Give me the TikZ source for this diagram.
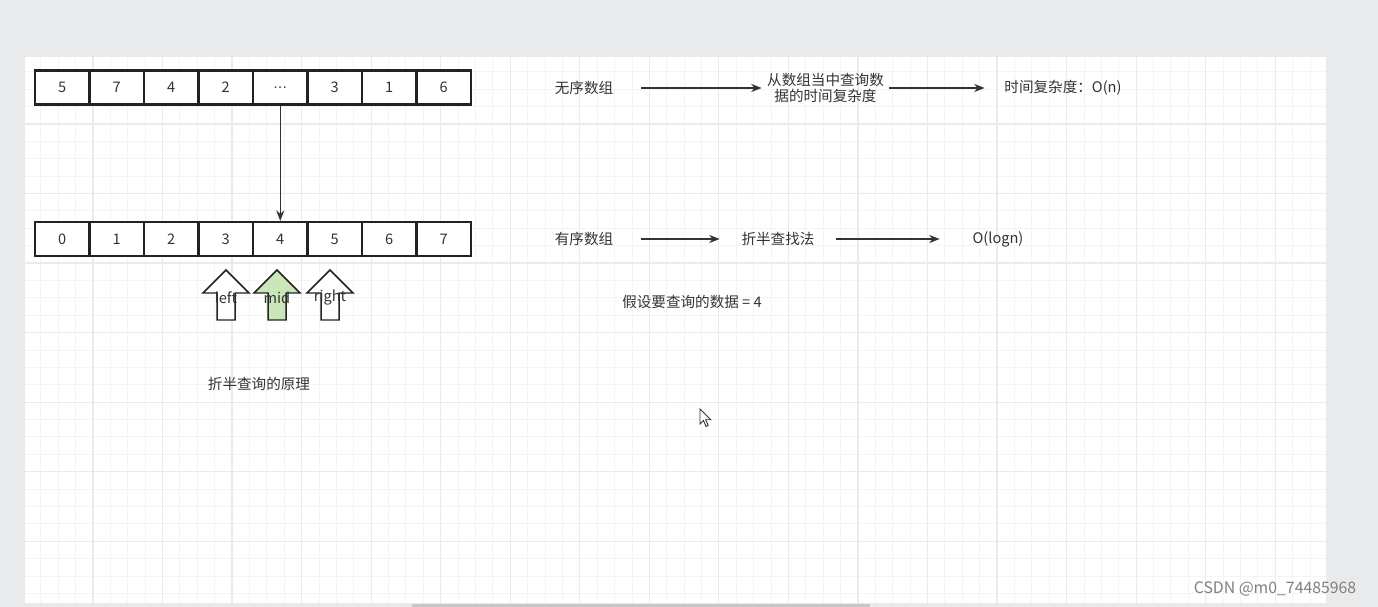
\documentclass[tikz,border=0pt]{standalone}
\usepackage{fontspec}
\setmainfont{Noto Sans CJK SC}
\newfontfamily\latinfont{Liberation Sans}
\usetikzlibrary{arrows.meta}

\definecolor{pagegray}{HTML}{E9EAEC}
\definecolor{gridminor}{HTML}{F4F4F4}
\definecolor{gridmajor}{HTML}{EBEBEB}
\definecolor{cellline}{HTML}{222222}
\definecolor{txt}{HTML}{333333}
\definecolor{midgreen}{HTML}{C9E7B9}
\newcommand\celldots{{\latinfont.\kern0.3pt.\kern0.3pt.}}

\begin{document}
\begin{tikzpicture}[
  x=0.02cm, y=-0.02cm,
  >={Stealth[length=6pt,width=4.6pt]},
  font=\fontsize{8.3}{9.6}\selectfont,
  cell/.style={draw=cellline, line width=1.2pt, fill=white, text=txt,
    minimum width=1.09cm, minimum height=0.68cm, inner sep=0},
  lbl/.style={text=txt, inner sep=0, minimum height=0.4cm, align=center},
  link/.style={->, draw=txt, line width=0.8pt},
  pointer/.style={draw=cellline, line width=0.85pt},
  uparrow/.pic={
    \draw[pic actions] (-9,25) -- (-9,-2) -- (-23,-2) -- (0,-25)
      -- (23,-2) -- (9,-2) -- (9,25) -- cycle;}
]
  % page and drawing canvas
  \useasboundingbox[fill=pagegray] (0,0) rectangle (1378,607);
  \fill[white] (25,57) rectangle (1326,603);
  \fill[black!22] (412,604) rectangle (870,607);
  \begin{scope}
    \clip (25,57) rectangle (1326,603);
    \foreach \i in {0,...,75}
      \draw[gridminor, line width=0.5pt] ({23.46+17.385*\i},57) -- ++(0,546);
    \foreach \j in {0,...,32}
      \draw[gridminor, line width=0.5pt] (25,{54.46+17.385*\j}) -- ++(1301,0);
    \foreach \i in {0,4,...,72}
      \draw[gridmajor, line width=0.7pt] ({23.46+17.385*\i},57) -- ++(0,546);
    \foreach \j in {0,4,...,32}
      \draw[gridmajor, line width=0.7pt] (25,{54.46+17.385*\j}) -- ++(1301,0);
  \end{scope}

  % unsorted and sorted arrays
  \foreach \v [count=\i] in {5,7,4,2,\celldots,3,1,6}
    \node[cell] (t\i) at ({35+54.5*(\i-0.5)},87.5) {\v};
  \foreach \v [count=\i] in {0,...,7}
    \node[cell] (b\i) at ({35+54.5*(\i-0.5)},239) {\v};
  \draw[link] (t5) -- (b5);

  % search pointers
  \pic[pointer, fill=white] at (226,295) {uparrow};
  \pic[pointer, fill=midgreen] at (277,295) {uparrow};
  \pic[pointer, fill=white] at (330,295) {uparrow};
  \node[lbl] (left) at (226,298) {left};
  \node[lbl] (mid) at (277,298) {mid};
  \node[lbl] (right) at (330,298) {right};
  \node[lbl] (caption) at (259,384) {折半查询的原理};

  % complexity notes
  \node[lbl, minimum width=2.28cm] (unsorted) at (584,88) {无序数组};
  \node[lbl, minimum width=2.54cm] (query) at (825.5,88)
    {从数组当中查询数\\据的时间复杂度};
  \node[lbl, minimum width=3.12cm] (linear) at (1063,88) {时间复杂度：O(n)};
  \draw[link] (unsorted) -- (query);
  \draw[link] (query) -- (linear);

  \node[lbl, minimum width=2.28cm] (sorted) at (584,239) {有序数组};
  \node[lbl, minimum width=2.32cm] (halving) at (778,239) {折半查找法};
  \node[lbl, minimum width=2.32cm] (logn) at (998,239) {O(logn)};
  \draw[link] (sorted) -- (halving);
  \draw[link] (halving) -- (logn);

  \node[lbl] (target) at (692,302) {假设要查询的数据\ =\ 4};

  % mouse cursor
  \draw[fill=white, draw=black!80, line width=0.5pt] (700,409) -- ++(0,15)
    -- ++(3.5,-3.5) -- ++(2.5,6) -- ++(2.2,-1) -- ++(-2.5,-5.7)
    -- ++(5,0) -- cycle;

  \node[text=black!50, font=\fontsize{9}{10}\selectfont] (mark) at (1275,589)
    {CSDN @m0\_74485968};
\end{tikzpicture}
\end{document}
